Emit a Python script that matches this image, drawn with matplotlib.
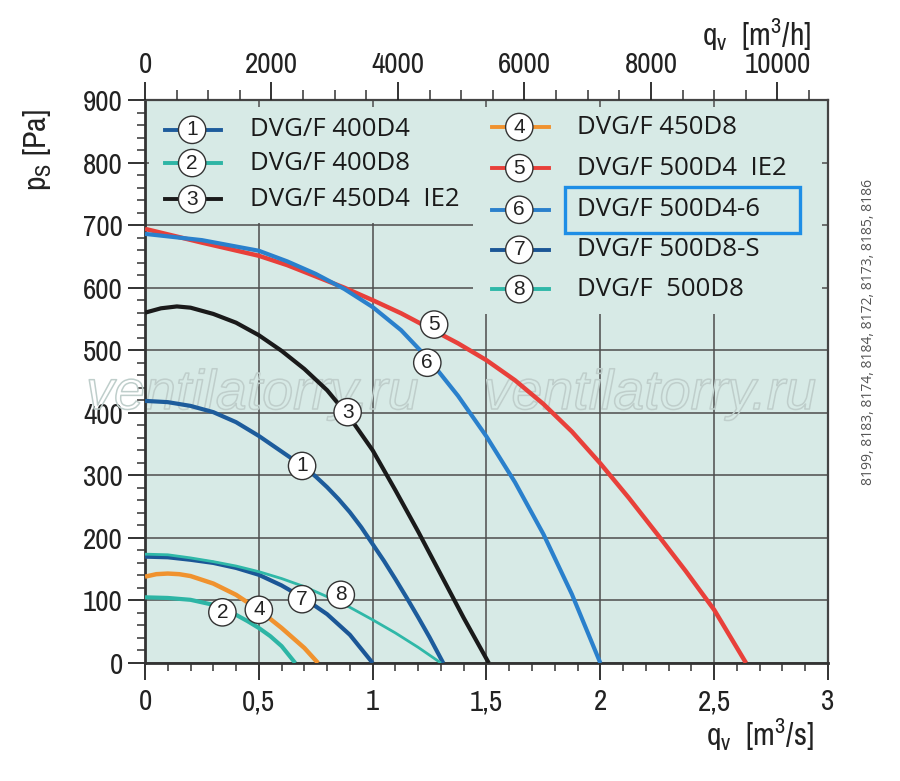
import matplotlib
matplotlib.use("Agg")
import matplotlib.pyplot as plt
import matplotlib.patheffects as pe
from matplotlib.patches import Rectangle
from matplotlib.ticker import MultipleLocator, FixedLocator

plt.rcParams['font.family'] = ['Archivo Narrow', 'Liberation Sans', 'DejaVu Sans']
plt.rcParams['mathtext.fontset'] = 'custom'
plt.rcParams['mathtext.rm'] = 'Archivo Narrow'
plt.rcParams['mathtext.it'] = 'Archivo Narrow'

# ---- data ----
labels = ["DVG/F 400D4", "DVG/F 400D8", "DVG/F 450D4  IE2", "DVG/F 450D8",
          "DVG/F 500D4  IE2", "DVG/F 500D4-6", "DVG/F 500D8-S", "DVG/F  500D8"]
colors = ["#1d5c9c", "#2db5a5", "#1a1a1a", "#f0922e", "#e8403a", "#2a80cc", "#1b5696", "#2fb8a8"]
widths = [3.0, 3.0, 3.0, 3.2, 3.2, 3.0, 3.0, 2.0]

q1 = [0, 0.1, 0.2, 0.3, 0.4, 0.5, 0.6, 0.7, 0.75, 0.8, 0.85, 0.9, 0.95, 1.0, 1.05, 1.1, 1.15, 1.2, 1.25, 1.31]
p1 = [419, 417, 411, 401, 385, 363, 338, 313, 298, 281, 262, 241, 217, 190, 163, 134, 104, 73, 41, 0]
q2 = [0, 0.1, 0.2, 0.3, 0.4, 0.45, 0.5, 0.55, 0.6, 0.66]
p2 = [105, 104, 101, 93, 77, 67, 56, 43, 27, 0]
q3 = [0, 0.07, 0.14, 0.2, 0.3, 0.4, 0.5, 0.6, 0.7, 0.8, 0.9, 1.0, 1.1, 1.2, 1.3, 1.4, 1.51]
p3 = [560, 567, 570, 568, 558, 544, 524, 499, 470, 436, 392, 340, 276, 210, 141, 72, 0]
q4 = [0, 0.05, 0.1, 0.15, 0.2, 0.3, 0.4, 0.5, 0.6, 0.7, 0.76]
p4 = [138, 142, 143, 142, 139, 127, 109, 85, 56, 24, 0]
q5 = [0, 0.25, 0.5, 0.625, 0.75, 0.875, 1.0, 1.125, 1.25, 1.375, 1.5, 1.625, 1.75,
      1.875, 2.0, 2.125, 2.25, 2.375, 2.5, 2.64]
p5 = [694, 672, 651, 636, 618, 600, 580, 559, 535, 511, 484, 452, 414,
      370, 319, 264, 206, 147, 85, 0]
q6 = [0, 0.25, 0.5, 0.625, 0.75, 0.875, 1.0, 1.125, 1.25, 1.375, 1.5, 1.625, 1.75, 1.875, 2.0]
p6 = [686, 676, 659, 642, 622, 598, 569, 532, 484, 427, 362, 289, 206, 110, 0]
q7 = [0, 0.1, 0.2, 0.3, 0.4, 0.5, 0.6, 0.7, 0.8, 0.9, 1.0]
p7 = [170, 169, 165, 160, 152, 141, 124, 103, 78, 45, 0]
q8 = [0, 0.1, 0.2, 0.3, 0.4, 0.5, 0.6, 0.7, 0.8, 0.9, 1.0, 1.1, 1.2, 1.3]
p8 = [174, 173, 168, 162, 155, 146, 135, 122, 106, 89, 69, 48, 25, 0]
curves_q = [q1, q2, q3, q4, q5, q6, q7, q8]
curves_p = [p1, p2, p3, p4, p5, p6, p7, p8]

# curve number markers (q, p)
mark_q = [0.69, 0.34, 0.89, 0.50, 1.27, 1.24, 0.69, 0.86]
mark_p = [315, 81, 401, 85, 541, 480, 102, 109]

x_ticks = [0, 0.5, 1, 1.5, 2, 2.5, 3]
x_ticklabels = ["0", "0,5", "1", "1,5", "2", "2,5", "3"]
y_ticks = [0, 100, 200, 300, 400, 500, 600, 700, 800, 900]
top_ticks = [0, 2000, 4000, 6000, 8000, 10000]
side_text = "8199, 8183, 8174, 8184, 8172, 8173, 8185, 8186"

bg = "#d7eae6"
gridc = "#4d4d4d"

fig = plt.figure(figsize=(9, 7.81), dpi=100)
ax = fig.add_axes([145/900, 1-663/781, 683/900, 563/781])
ax.set_facecolor(bg)
ax.set_xlim(0, 3)
ax.set_ylim(0, 900)

ax.set_xticks(x_ticks)
ax.set_xticklabels(x_ticklabels)
ax.xaxis.set_minor_locator(MultipleLocator(0.1))
ax.set_yticks(y_ticks)
ax.yaxis.set_minor_locator(MultipleLocator(20))
ax.tick_params(axis='both', which='major', labelsize=21, colors='#222', width=1.3,
               length=12, direction='out', pad=4)
ax.tick_params(axis='both', which='minor', width=1.1, length=6, direction='out', color='#333')
ax.tick_params(axis='x', which='major', pad=6)
ax.grid(True, which='major', color=gridc, lw=1.1, zorder=1)
ax.set_axisbelow(True)
for s in ['left', 'bottom']:
    ax.spines[s].set_linewidth(2.0)
    ax.spines[s].set_color('#333')
for s in ['top', 'right']:
    ax.spines[s].set_linewidth(1.6)
    ax.spines[s].set_color('#444')

# top axis in m3/h
ax2 = ax.twiny()
ax2.set_xlim(0, 3*3600)
ax2.xaxis.set_major_locator(FixedLocator(top_ticks))
ax2.xaxis.set_minor_locator(MultipleLocator(500))
ax2.tick_params(axis='x', which='major', labelsize=21, colors='#222', width=1.3, length=13, pad=3)
ax2.tick_params(axis='x', which='minor', width=1.1, length=7, color='#333')
for s in ax2.spines.values():
    s.set_visible(False)

# legend background patches (hide grid)
ax.add_patch(Rectangle((0.006, 0.781), 0.474, 0.206, transform=ax.transAxes,
                       fc=bg, ec='none', zorder=1.5))
ax.add_patch(Rectangle((0.48, 0.62), 0.511, 0.367, transform=ax.transAxes,
                       fc=bg, ec='none', zorder=1.5))

# watermark
for xc in [0.157, 0.739]:
    ax.text(xc, 0.476, "ventilatorry.ru", transform=ax.transAxes, ha='center', va='center',
            fontsize=40, style='italic', family=['Liberation Sans', 'DejaVu Sans'],
            color='none', zorder=2.5, clip_on=False,
            path_effects=[pe.withStroke(linewidth=1.1, foreground='#bfcecb')])

# curves
for qq, pp, c, w in zip(curves_q, curves_p, colors, widths):
    ax.plot(qq, pp, color=c, lw=w, solid_capstyle='butt', solid_joinstyle='round', zorder=3)

circ = dict(boxstyle='circle,pad=0.2', fc='white', ec='#333', lw=1.0)
for i, (mq, mp) in enumerate(zip(mark_q, mark_p)):
    ax.text(mq, mp, str(i+1), ha='center', va='center', fontsize=15,
            family=['Liberation Sans', 'DejaVu Sans'], color='#222', bbox=circ, zorder=5)

# legend
col_x = [(0.029, 0.112, 0.069, 0.154), (0.508, 0.592, 0.548, 0.633)]
rows_y = [[0.947, 0.888, 0.824], [0.952, 0.879, 0.805, 0.734, 0.664]]
k = 0
for ci, (x0, x1, xc, xt) in enumerate(col_x):
    for yy in rows_y[ci]:
        ax.plot([x0, x1], [yy, yy], transform=ax.transAxes, color=colors[k],
                lw=2.8, zorder=4)
        ax.text(xc, yy, str(k+1), transform=ax.transAxes, ha='center', va='center',
                fontsize=15, family=['Liberation Sans', 'DejaVu Sans'], color='#222',
                bbox=circ, zorder=5)
        ax.text(xt, yy, labels[k], transform=ax.transAxes, ha='left', va='center',
                fontsize=18.5, family=['Open Sans', 'DejaVu Sans'], color='#1a1a1a', zorder=5)
        k += 1

ax.add_patch(Rectangle((0.615, 0.764), 0.344, 0.081, transform=ax.transAxes,
                       fc='none', ec='#1e8ee6', lw=2.4, zorder=6))

# axis labels
fig.text(38/900, 1-150/781, r'p$_\mathrm{S}$ [Pa]', rotation=90, ha='center', va='center',
         fontsize=23, color='#222')
fig.text(760/900, 1-735/781, r'q$_\mathrm{v}$  [m$^\mathrm{3}$/s]', ha='center', va='center',
         fontsize=23, color='#222')
fig.text(757/900, 1-35/781, r'q$_\mathrm{v}$  [m$^\mathrm{3}$/h]', ha='center', va='center',
         fontsize=23, color='#222')
fig.text(868/900, 1-332/781, side_text, rotation=90, ha='center', va='center',
         fontsize=10, family=['Open Sans', 'DejaVu Sans'], color='#555')

fig.savefig("out.png", dpi=100, facecolor='white')
